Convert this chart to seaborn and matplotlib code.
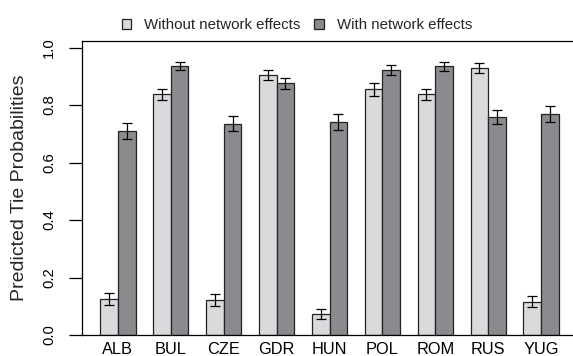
import matplotlib
matplotlib.use("Agg")
import matplotlib.pyplot as plt
from matplotlib.patches import Patch
import seaborn as sns
import pandas as pd

# Predicted tie probabilities by country, with and without network effects
countries = ["ALB", "BUL", "CZE", "GDR", "HUN", "POL", "ROM", "RUS", "YUG"]
without_net = [0.126, 0.837, 0.123, 0.904, 0.074, 0.855, 0.837, 0.929, 0.116]
with_net = [0.711, 0.936, 0.735, 0.875, 0.740, 0.922, 0.935, 0.759, 0.768]
err_without = [0.021, 0.020, 0.021, 0.018, 0.017, 0.022, 0.020, 0.016, 0.020]
err_with = [0.028, 0.015, 0.027, 0.019, 0.027, 0.016, 0.015, 0.025, 0.027]
conditions = ["Without network effects", "With network effects"]
yticks = [0.0, 0.2, 0.4, 0.6, 0.8, 1.0]

df = pd.DataFrame({
    "country": countries * 2,
    "prob": without_net + with_net,
    "err": err_without + err_with,
    "condition": [conditions[0]] * len(countries) + [conditions[1]] * len(countries),
})

sns.set_theme(style="white")
plt.rcParams["font.family"] = ["Liberation Sans", "DejaVu Sans"]

light, dark = "#d9dadc", "#8a8b8e"
edge = "#222222"

fig = plt.figure(figsize=(5.73, 3.56), dpi=100)
ax = fig.add_axes([82 / 573, 21 / 356, 495 / 573, 294.3 / 356])

sns.barplot(data=df, x="country", y="prob", hue="condition",
            hue_order=conditions, palette=[light, dark], width=2 / 3,
            gap=0, errorbar=None, edgecolor=edge, linewidth=0.9,
            saturation=1, legend=False, ax=ax)

# error bars centred on each drawn bar
for cont, cond in zip(ax.containers, conditions):
    sub = df[df["condition"] == cond]
    xs = [b.get_x() + b.get_width() / 2 for b in cont]
    ax.errorbar(xs, sub["prob"].values, yerr=sub["err"].values, fmt="none",
                ecolor="black", elinewidth=0.9, capsize=3.6, capthick=0.9,
                zorder=5)

ax.set_xlim(-0.68, 8.68)
ax.set_ylim(0, 1.0237)
ax.set_yticks(yticks)
ax.set_yticklabels([f"{t:.1f}" for t in yticks], rotation=90, va="center")
ax.tick_params(axis="y", left=True, length=9.5, width=0.9, pad=9,
               labelsize=10.7, colors="black")
ax.tick_params(axis="x", bottom=False, length=0, pad=5, labelsize=11.8,
               colors="black")
ax.set_xlabel("")
ax.set_ylabel("Predicted Tie Probabilities", fontsize=14)
ax.yaxis.set_label_coords(-0.109, 0.5)

for side in ["left", "top", "bottom", "right"]:
    ax.spines[side].set_color("black")
    ax.spines[side].set_linewidth(0.9)

handles = [Patch(facecolor=light, edgecolor=edge, linewidth=0.9),
           Patch(facecolor=dark, edgecolor=edge, linewidth=0.9)]
ax.legend(handles, conditions, loc="center", bbox_to_anchor=(0.434, 1.053),
          ncol=2, frameon=False, fontsize=10.8, handlelength=0.65,
          handleheight=0.65, handletextpad=0.85, columnspacing=0.9,
          borderaxespad=0)

fig.savefig("out.png", dpi=100)
